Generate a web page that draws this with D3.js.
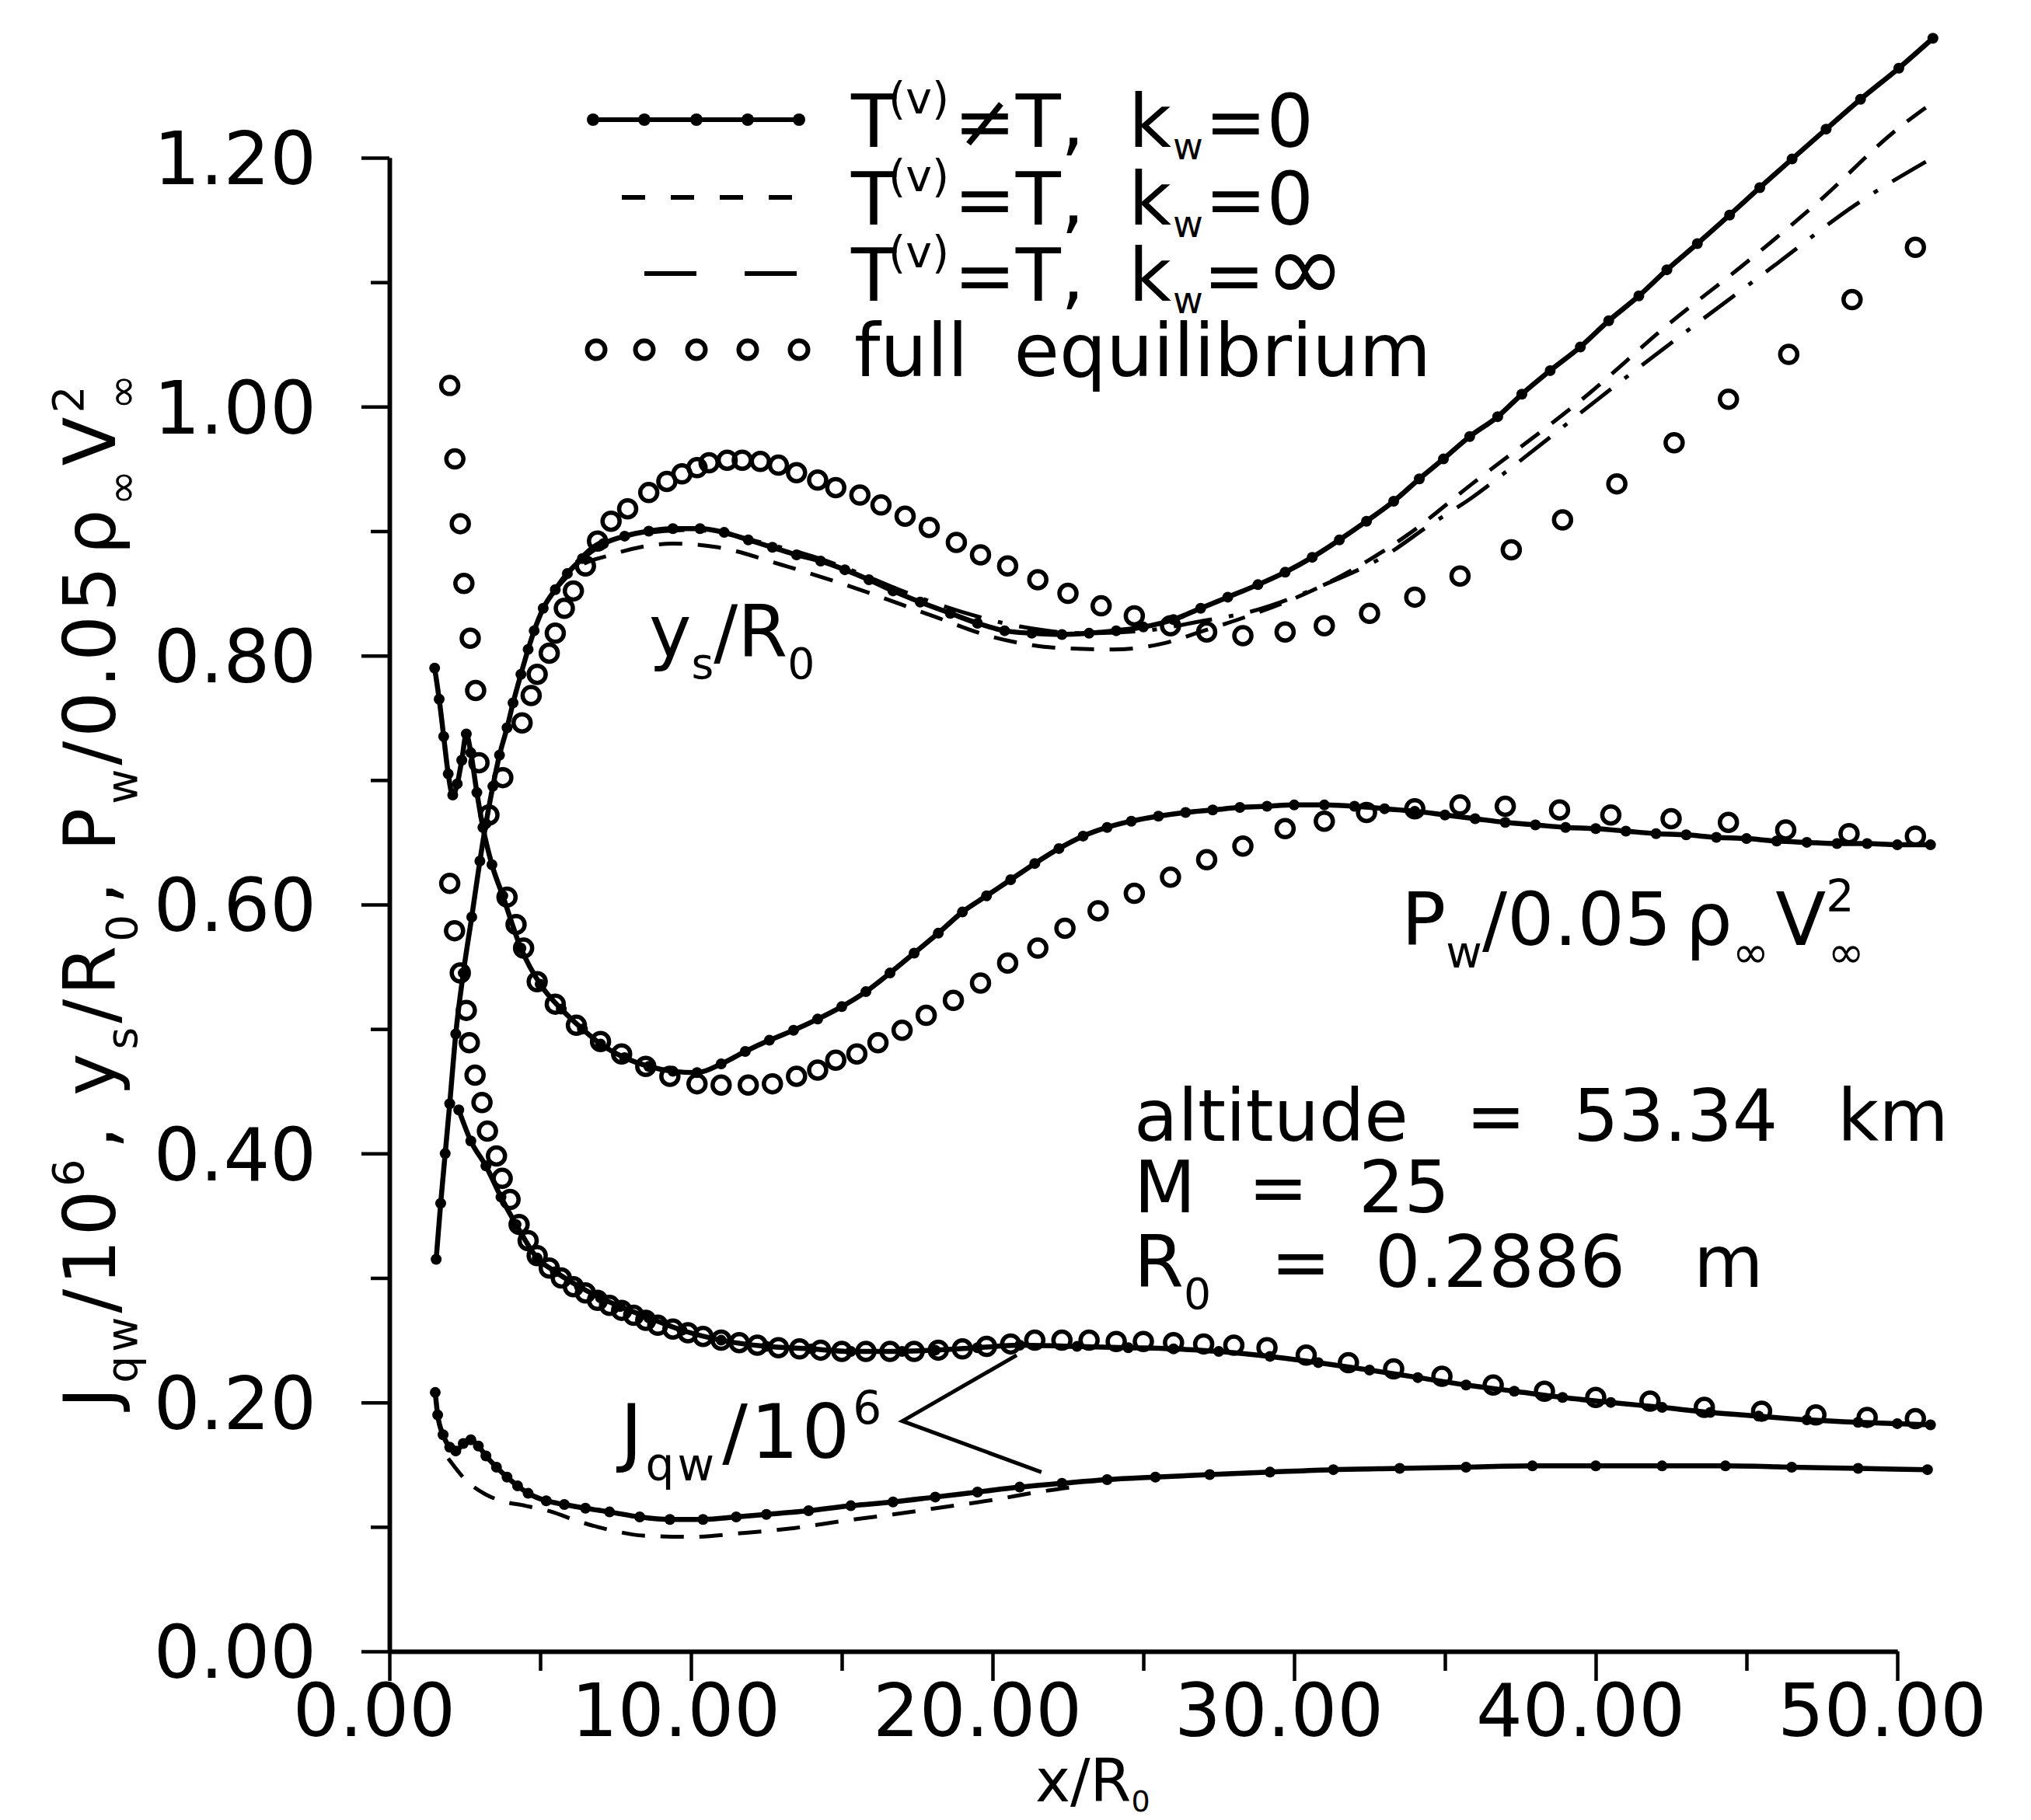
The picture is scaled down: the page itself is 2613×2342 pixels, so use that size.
<!DOCTYPE html>
<html>
<head>
<meta charset="utf-8">
<script src="https://cdn.jsdelivr.net/npm/d3@7"></script>
<style>
body { margin: 0; background: #fff; }
text { font-family: "DejaVu Sans", sans-serif; fill: #000; }
</style>
</head>
<body>
<svg id="chart" width="2613" height="2342"></svg>
<script>
// axis ticks
const xMajor = [0, 10, 20, 30, 40, 50];
const xMinor = [5, 15, 25, 35, 45];
const yMajor = [0, 0.2, 0.4, 0.6, 0.8, 1.0, 1.2];
const yMinor = [0.1, 0.3, 0.5, 0.7, 0.9, 1.1];

// shock standoff y_s/R0
const ysNoneq = [[1.55,0.315],[1.7,0.36],[1.85,0.40],[2.0,0.44],[2.2,0.496],[2.45,0.545],[2.73,0.59],[3.0,0.635],[3.2,0.665],[3.43,0.695],[3.65,0.72],[3.9,0.742],[4.1,0.762],[4.36,0.785],[4.6,0.805],[4.8,0.82],[5.1,0.838],[5.5,0.853],[5.9,0.866],[6.4,0.878],[7.1,0.89],[7.8,0.896],[8.6,0.9],[9.4,0.902],[10.3,0.902],[11.1,0.899],[11.9,0.893],[12.7,0.887],[13.5,0.881],[14.3,0.876],[15.1,0.869],[15.9,0.861],[16.7,0.852],[17.6,0.843],[18.6,0.834],[19.5,0.826],[20.4,0.82],[21.3,0.818],[22.3,0.817],[23.2,0.818],[24.1,0.82],[25.0,0.823],[26.0,0.829],[26.9,0.838],[27.8,0.847],[28.8,0.857],[29.7,0.867],[30.6,0.879],[31.5,0.893],[32.4,0.908],[33.3,0.924],[34.15,0.942],[34.95,0.958],[35.82,0.976],[36.75,0.992],[37.55,1.01],[38.49,1.029],[39.49,1.048],[40.43,1.069],[41.43,1.089],[42.36,1.11],[43.37,1.131],[44.44,1.154],[45.44,1.176],[46.51,1.199],[47.64,1.223],[48.78,1.247],[50.05,1.272],[51.18,1.296]];
const ysEqT = [[5.5,0.853],[6.2,0.87],[7.35,0.881],[9.4,0.89],[10.9,0.887],[13.0,0.873],[15.6,0.853],[18.0,0.832],[20.0,0.815],[22.3,0.806],[24.0,0.805],[25.7,0.81],[27.0,0.82],[28.5,0.832],[31.0,0.857],[33.7,0.896],[35.9,0.938],[39.8,1.011],[42.3,1.064],[45.0,1.116],[47.4,1.165],[50.0,1.223],[51.1,1.243]];
const ysEqTInf = [[6.2,0.875],[7.1,0.892],[10.0,0.901],[12.5,0.89],[14.5,0.876],[15.6,0.866],[17.0,0.852],[19.0,0.835],[21.0,0.823],[23.0,0.818],[25.0,0.82],[27.0,0.828],[28.5,0.835],[31.0,0.857],[33.0,0.88],[34.5,0.905],[35.9,0.927],[37.2,0.951],[40.6,1.016],[43.2,1.064],[45.9,1.113],[48.6,1.162],[51.1,1.199]];
const ysFull = [[3.76,0.702],[4.4,0.746],[4.7,0.768],[4.9,0.785],[5.3,0.802],[5.5,0.818],[5.8,0.838],[6.1,0.852],[6.5,0.872],[6.9,0.892],[7.35,0.908],[7.9,0.918],[8.6,0.931],[9.2,0.94],[9.7,0.946],[10.2,0.951],[10.6,0.955],[11.2,0.957],[11.7,0.957],[12.3,0.956],[12.9,0.953],[13.5,0.947],[14.2,0.941],[14.8,0.935],[15.6,0.929],[16.3,0.921],[17.1,0.912],[17.9,0.903],[18.8,0.891],[19.6,0.881],[20.5,0.872],[21.5,0.861],[22.5,0.85],[23.6,0.84],[24.7,0.832],[25.9,0.824],[27.1,0.819],[28.3,0.816],[29.7,0.819],[31.0,0.824],[32.5,0.834],[34.0,0.847],[35.5,0.864],[37.2,0.885],[38.9,0.909],[40.7,0.938],[42.6,0.971],[44.4,1.006],[46.4,1.042],[48.5,1.086],[50.6,1.128]];

// wall pressure P_w/0.05 rho V^2
const pwNoneq = [[1.5,0.79],[1.65,0.765],[1.8,0.735],[1.95,0.705],[2.1,0.688],[2.25,0.697],[2.4,0.716],[2.55,0.737],[2.7,0.722],[2.9,0.69],[3.1,0.662],[3.4,0.632],[3.76,0.607],[4.36,0.565],[5.0,0.536],[5.7,0.516],[6.4,0.5],[7.0,0.488],[7.8,0.477],[8.6,0.47],[9.4,0.466],[10.2,0.465],[11.0,0.472],[11.8,0.482],[12.6,0.491],[13.4,0.499],[14.2,0.508],[15.0,0.518],[15.8,0.53],[16.6,0.545],[17.4,0.561],[18.2,0.577],[19.0,0.594],[19.8,0.607],[20.6,0.62],[21.4,0.633],[22.2,0.645],[23.0,0.655],[23.8,0.662],[24.6,0.667],[25.5,0.671],[26.4,0.674],[27.3,0.676],[28.2,0.678],[29.1,0.679],[30.0,0.68],[31.0,0.68],[32.0,0.679],[33.0,0.677],[34.0,0.675],[35.0,0.672],[36.0,0.669],[37.0,0.666],[38.0,0.664],[39.0,0.662],[40.0,0.661],[41.0,0.659],[42.0,0.657],[43.0,0.656],[44.0,0.654],[45.0,0.653],[46.0,0.651],[47.0,0.65],[48.0,0.649],[49.0,0.649],[50.0,0.648],[51.1,0.648]];
const pwFull = [[2.0,1.017],[2.17,0.958],[2.35,0.906],[2.47,0.858],[2.68,0.814],[2.86,0.772],[2.97,0.714],[3.3,0.672],[3.9,0.606],[4.2,0.584],[4.45,0.565],[4.9,0.538],[5.5,0.52],[6.2,0.503],[7.0,0.49],[7.7,0.48],[8.5,0.47],[9.3,0.462],[10.2,0.456],[11.0,0.455],[11.9,0.455],[12.7,0.456],[13.5,0.462],[14.2,0.467],[14.8,0.475],[15.5,0.48],[16.2,0.489],[17.0,0.499],[17.8,0.511],[18.7,0.523],[19.6,0.537],[20.5,0.553],[21.5,0.565],[22.4,0.581],[23.5,0.595],[24.7,0.609],[25.9,0.622],[27.1,0.636],[28.3,0.647],[29.7,0.661],[31.0,0.667],[32.4,0.674],[34.0,0.677],[35.5,0.68],[37.0,0.679],[38.8,0.676],[40.5,0.672],[42.5,0.669],[44.4,0.666],[46.3,0.66],[48.4,0.657],[50.6,0.655]];

// heat flux J_qw/10^6, upper branch
const jqUpNoneq = [[2.3,0.435],[2.7,0.41],[3.2,0.39],[3.7,0.365],[4.2,0.343],[4.9,0.316],[5.5,0.305],[6.3,0.293],[7.0,0.284],[7.65,0.277],[8.6,0.268],[9.7,0.258],[11.0,0.25],[12.5,0.245],[14.0,0.243],[15.3,0.241],[17.0,0.241],[18.1,0.242],[19.5,0.244],[20.9,0.246],[22.8,0.245],[24.5,0.244],[26.0,0.243],[27.5,0.241],[29.2,0.237],[30.8,0.232],[32.5,0.226],[34.1,0.22],[35.7,0.214],[37.3,0.209],[38.9,0.204],[40.5,0.2],[42.2,0.196],[43.8,0.192],[45.4,0.189],[47.0,0.186],[48.7,0.184],[50.0,0.183],[51.1,0.182]];
const jqUpFull = [[2.0,0.617],[2.16,0.579],[2.35,0.545],[2.55,0.515],[2.65,0.489],[2.84,0.463],[3.07,0.441],[3.25,0.418],[3.55,0.398],[3.74,0.38],[4.0,0.363],[4.3,0.343],[4.6,0.33],[4.9,0.318],[5.3,0.308],[5.7,0.3],[6.1,0.293],[6.5,0.288],[6.9,0.282],[7.3,0.278],[7.7,0.274],[8.1,0.27],[8.5,0.266],[8.9,0.262],[9.4,0.259],[9.9,0.256],[10.4,0.253],[11.0,0.25],[11.6,0.248],[12.2,0.246],[12.9,0.244],[13.6,0.243],[14.3,0.242],[15.0,0.241],[15.8,0.241],[16.6,0.241],[17.4,0.241],[18.2,0.242],[19.0,0.243],[19.8,0.245],[20.6,0.247],[21.4,0.25],[22.3,0.25],[23.2,0.25],[24.1,0.249],[25.0,0.249],[26.0,0.248],[27.0,0.247],[28.0,0.246],[29.1,0.244],[30.4,0.238],[31.8,0.232],[33.3,0.227],[34.9,0.221],[36.6,0.214],[38.3,0.209],[40.0,0.204],[41.8,0.201],[43.6,0.196],[45.5,0.193],[47.3,0.19],[49.0,0.188],[50.6,0.187]];

// heat flux, lower branch
const jqLowNoneq = [[1.52,0.208],[1.6,0.19],[1.78,0.174],[2.0,0.164],[2.2,0.161],[2.45,0.167],[2.7,0.17],[2.95,0.165],[3.2,0.157],[3.55,0.148],[3.9,0.14],[4.25,0.133],[4.6,0.127],[5.2,0.121],[5.8,0.118],[6.5,0.115],[7.3,0.112],[8.3,0.108],[9.3,0.106],[10.4,0.106],[11.5,0.108],[12.5,0.11],[13.9,0.113],[15.3,0.117],[16.7,0.12],[18.1,0.124],[19.5,0.128],[20.9,0.132],[22.3,0.135],[23.8,0.138],[25.4,0.14],[27.2,0.142],[29.2,0.144],[31.3,0.146],[33.5,0.147],[35.7,0.148],[37.9,0.149],[40.0,0.149],[42.2,0.149],[44.3,0.149],[46.5,0.148],[48.7,0.147],[51.0,0.146]];
const jqLowEqT = [[1.95,0.155],[2.6,0.136],[3.2,0.126],[3.7,0.121],[4.5,0.117],[5.4,0.112],[6.2,0.105],[6.9,0.1],[7.6,0.096],[8.4,0.093],[10.0,0.092],[11.7,0.095],[13.4,0.099],[15.1,0.105],[16.7,0.11],[18.4,0.116],[20.1,0.122],[21.5,0.128],[23.0,0.133]];

// pointer of the J_qw label
const jqPointer = [[20.8,0.238],[17.01,0.185],[21.62,0.144]];

const svg = d3.select("#chart");
svg.append("rect").attr("width", 2613).attr("height", 2342).attr("fill", "#fff");

const x = d3.scaleLinear().domain([0, 50]).range([501, 2441]);
const y = d3.scaleLinear().domain([0, 1.2]).range([2125, 203]);

// axes
const gy = svg.append("g").attr("transform", "translate(501,0)");
gy.call(d3.axisLeft(y).tickValues(yMajor).tickSize(36).tickSizeOuter(0).tickPadding(58).tickFormat(d => d.toFixed(2)));
gy.append("g").call(d3.axisLeft(y).tickValues(yMinor).tickSize(24).tickSizeOuter(0).tickFormat(""));
gy.selectAll("text").attr("font-size", 94).attr("font-family", "DejaVu Sans").attr("dy", "0.36em");

const gx = svg.append("g").attr("transform", "translate(0,2125)");
gx.call(d3.axisBottom(x).tickValues(xMajor).tickSize(38).tickSizeOuter(0).tickPadding(4).tickFormat(d => d.toFixed(2)));
gx.append("g").call(d3.axisBottom(x).tickValues(xMinor).tickSize(25).tickSizeOuter(0).tickFormat(""));
gx.selectAll("text").attr("font-size", 94).attr("font-family", "Liberation Sans").attr("dx", -20);

svg.selectAll(".domain").attr("stroke", "#000").attr("stroke-width", 5.5);
svg.selectAll(".tick line").attr("stroke", "#000").attr("stroke-width", 4.5);

const line = d3.line().x(d => x(d[0])).y(d => y(d[1])).curve(d3.curveMonotoneX);
const plot = svg.append("g");

function solid(data) {
  plot.append("path").datum(data).attr("d", line)
    .attr("fill", "none").attr("stroke", "#000").attr("stroke-width", 6.5);
  plot.append("g").selectAll("circle").data(data).join("circle")
    .attr("cx", d => x(d[0])).attr("cy", d => y(d[1])).attr("r", 7).attr("fill", "#000");
}
function dashed(data, dash) {
  plot.append("path").datum(data).attr("d", line)
    .attr("fill", "none").attr("stroke", "#000").attr("stroke-width", 5)
    .attr("stroke-dasharray", dash);
}
function rings(data) {
  plot.append("g").selectAll("circle").data(data).join("circle")
    .attr("cx", d => x(d[0])).attr("cy", d => y(d[1])).attr("r", 11)
    .attr("fill", "none").attr("stroke", "#000").attr("stroke-width", 5.5);
}

const DASH = "30,20";
const DASHDOT = "50,22,6,22";

dashed(ysEqT, DASH);
dashed(ysEqTInf, DASHDOT);
dashed(jqLowEqT, DASH);
solid(ysNoneq);
solid(pwNoneq);
solid(jqUpNoneq);
solid(jqLowNoneq);
rings(ysFull);
rings(pwFull);
rings(jqUpFull);

plot.append("path").datum(jqPointer)
  .attr("d", d3.line().x(d => x(d[0])).y(d => y(d[1])))
  .attr("fill", "none").attr("stroke", "#000").attr("stroke-width", 5);

// text with sub/superscripts; "lsub" is a small, shallow subscript
function rich(parent, px, py, pieces, size) {
  const t = parent.append("text").attr("x", px).attr("y", py).attr("font-size", size);
  let cur = 0;
  pieces.forEach(p => {
    const [s, kind, dx] = p;
    const off = kind === "sub" ? 0.3 * size : kind === "lsub" ? 0.17 * size : kind === "sup" ? -0.45 * size : 0;
    const ts = t.append("tspan").text(s).attr("dy", off - cur);
    if (kind === "sub" || kind === "sup") ts.attr("font-size", 0.6 * size);
    if (kind === "lsub") ts.attr("font-size", 0.5 * size);
    if (kind === "big") ts.attr("font-size", 1.3 * size);
    if (dx) ts.attr("dx", dx);
    cur = off;
  });
  return t;
}

// legend
const leg = svg.append("g");
leg.append("line").attr("x1", 763).attr("x2", 1030).attr("y1", 154).attr("y2", 154)
  .attr("stroke", "#000").attr("stroke-width", 6);
leg.selectAll(".ld").data([763, 829, 896, 962, 1028]).join("circle")
  .attr("cx", d => d).attr("cy", 154).attr("r", 8).attr("fill", "#000");
leg.append("line").attr("x1", 800).attr("x2", 1026).attr("y1", 254).attr("y2", 254)
  .attr("stroke", "#000").attr("stroke-width", 6).attr("stroke-dasharray", "30,33");
leg.append("line").attr("x1", 829).attr("x2", 1026).attr("y1", 352).attr("y2", 352)
  .attr("stroke", "#000").attr("stroke-width", 6).attr("stroke-dasharray", "67,62");
leg.selectAll(".lc").data([767, 829, 896, 962, 1028]).join("circle")
  .attr("cx", d => d).attr("cy", 450).attr("r", 11.5)
  .attr("fill", "none").attr("stroke", "#000").attr("stroke-width", 6);

rich(leg, 1095, 189, [["T"], ["(v)", "sup", -10], ["≠T,", null, 6], ["k", null, 57], ["w", "lsub", 2], ["=0", null, 2]], 95);
rich(leg, 1095, 289, [["T"], ["(v)", "sup", -10], ["=T,", null, 6], ["k", null, 57], ["w", "lsub", 2], ["=0", null, 2]], 95);
rich(leg, 1095, 387, [["T"], ["(v)", "sup", -10], ["=T,", null, 6], ["k", null, 57], ["w", "lsub", 2], ["="], ["∞", "big"]], 95);
rich(leg, 1099, 484, [["full"], ["equilibrium", null, 59]], 95);

// axis titles
rich(svg.append("g").attr("transform", "translate(148,1812) rotate(-90)"), 0, 0,
  [["J"], ["qw", "sub"], ["/10"], ["6", "sup"], [", y", null, 8], ["s", "sub"], ["/R"], ["0", "sub"],
   [", P", null, 8], ["w", "sub"], ["/0.05"], ["ρ", null, 10], ["∞", "sub"], ["V"], ["2", "sup"], ["∞", "sub", -36]], 92)
  .attr("letter-spacing", 5);
rich(svg, 1332, 2318, [["x/R"], ["0", "lsub"]], 76);

// curve labels
rich(svg, 835, 845, [["y"], ["s", "sub"], ["/R"], ["0", "sub"]], 92);
rich(svg, 1803, 1216, [["P"], ["w", "sub"], ["/0.05"], ["ρ", null, 18], ["∞", "sub"], ["V", null, 8], ["2", "sup"], ["∞", "sub", -34]], 95);
rich(svg, 798, 1876, [["J"], ["qw", "sub"], ["/10", null, 6], ["6", "sup"]], 97).attr("letter-spacing", 4);

// flight conditions
const cond = svg.append("g").attr("font-size", 92);
cond.append("text").attr("x", 1459).attr("y", 1468).text("altitude");
cond.append("text").attr("x", 1886).attr("y", 1468).text("=");
cond.append("text").attr("x", 2024).attr("y", 1468).text("53.34");
cond.append("text").attr("x", 2364).attr("y", 1468).text("km");
cond.append("text").attr("x", 1459).attr("y", 1560).text("M");
cond.append("text").attr("x", 1606).attr("y", 1560).text("=");
cond.append("text").attr("x", 1748).attr("y", 1560).text("25");
rich(cond, 1459, 1656, [["R"], ["0", "sub"]], 92);
cond.append("text").attr("x", 1635).attr("y", 1656).text("=");
cond.append("text").attr("x", 1769).attr("y", 1656).text("0.2886");
cond.append("text").attr("x", 2179).attr("y", 1656).text("m");
</script>
</body>
</html>
